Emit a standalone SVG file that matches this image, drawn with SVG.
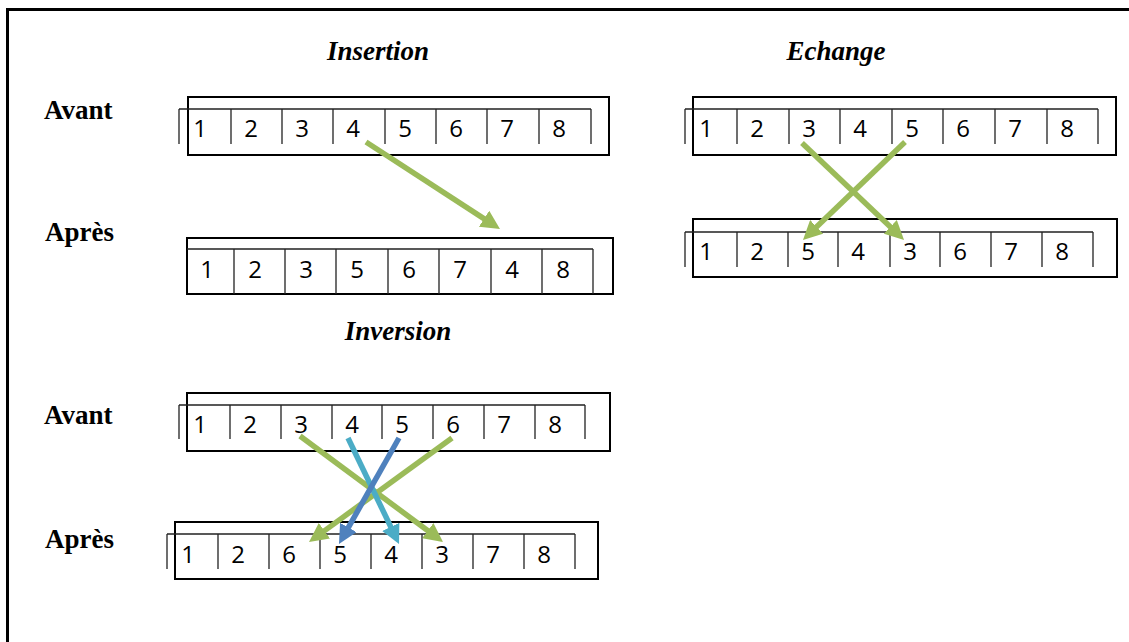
<svg xmlns="http://www.w3.org/2000/svg" width="1129" height="642" viewBox="0 0 1129 642">
  <defs>
    <style>
      .frame { fill: none; stroke: #000; stroke-width: 3; }
      .box { fill: none; stroke: #000; stroke-width: 2; }
      .grid { fill: none; stroke: #222; stroke-width: 1.3; }
      .num { font-family: "Open Sans", "Liberation Sans", sans-serif; font-size: 24px; fill: #000; text-anchor: middle; }
      .title { font-family: "Liberation Serif", serif; font-size: 27px; font-weight: bold; font-style: italic; fill: #000; text-anchor: middle; }
      .side { font-family: "Liberation Serif", serif; font-size: 27px; font-weight: bold; fill: #000; }
      .arr { fill: none; stroke-width: 5.5; }
      .green { stroke: #9BBB59; marker-end: url(#headGreen); }
      .cyan { stroke: #4BACC6; marker-end: url(#headCyan); }
      .blue { stroke: #4F81BD; marker-end: url(#headBlue); }
    </style>
    <marker id="headGreen" markerUnits="userSpaceOnUse" markerWidth="19" markerHeight="19" refX="9" refY="9.5" orient="auto">
      <path d="M0,0 L19,9.5 L0,19 Z" fill="#9BBB59"/>
    </marker>
    <marker id="headCyan" markerUnits="userSpaceOnUse" markerWidth="19" markerHeight="19" refX="9" refY="9.5" orient="auto">
      <path d="M0,0 L19,9.5 L0,19 Z" fill="#4BACC6"/>
    </marker>
    <marker id="headBlue" markerUnits="userSpaceOnUse" markerWidth="19" markerHeight="19" refX="9" refY="9.5" orient="auto">
      <path d="M0,0 L19,9.5 L0,19 Z" fill="#4F81BD"/>
    </marker>
  </defs>

  <rect width="1129" height="642" fill="#fff"/>
  <rect class="frame" x="7.5" y="9.5" width="1130" height="640"/>

  <!-- section titles and row labels -->
  <g id="labels">
    <text class="title" x="378" y="60">Insertion</text>
    <text class="title" x="836" y="60">Echange</text>
    <text class="title" x="398" y="340">Inversion</text>
    <text class="side" x="44" y="119">Avant</text>
    <text class="side" x="45" y="241">Après</text>
    <text class="side" x="44" y="424">Avant</text>
    <text class="side" x="45" y="548">Après</text>
  </g>

  <!-- insertion: before -->
  <g id="insertion-avant">
    <rect class="box" x="188" y="97" width="421" height="58"/>
    <path class="grid" d="M179,109 H591 M179,109 V144 M231,109 V144 M282,109 V144 M333,109 V144 M385,109 V144 M436,109 V144 M487,109 V144 M539,109 V144 M591,109 V144"/>
    <text class="num" y="137"><tspan x="200">1</tspan><tspan x="251">2</tspan><tspan x="302">3</tspan><tspan x="353">4</tspan><tspan x="405">5</tspan><tspan x="456">6</tspan><tspan x="507">7</tspan><tspan x="559">8</tspan></text>
  </g>

  <!-- insertion: after -->
  <g id="insertion-apres">
    <rect class="box" x="187" y="238" width="426" height="56"/>
    <path class="grid" d="M187,249 H593 M234,249 V294 M285,249 V294 M336,249 V294 M388,249 V294 M439,249 V294 M491,249 V294 M542,249 V294 M593,249 V294"/>
    <text class="num" y="278"><tspan x="207">1</tspan><tspan x="255">2</tspan><tspan x="306">3</tspan><tspan x="357">5</tspan><tspan x="409">6</tspan><tspan x="460">7</tspan><tspan x="512">4</tspan><tspan x="563">8</tspan></text>
  </g>

  <!-- exchange: before -->
  <g id="echange-avant">
    <rect class="box" x="693" y="97" width="423" height="58"/>
    <path class="grid" d="M685,109 H1098 M685,109 V144 M737,109 V144 M789,109 V144 M840,109 V144 M892,109 V144 M943,109 V144 M995,109 V144 M1047,109 V144 M1098,109 V144"/>
    <text class="num" y="137"><tspan x="706">1</tspan><tspan x="757">2</tspan><tspan x="809">3</tspan><tspan x="860">4</tspan><tspan x="912">5</tspan><tspan x="963">6</tspan><tspan x="1015">7</tspan><tspan x="1067">8</tspan></text>
  </g>

  <!-- exchange: after -->
  <g id="echange-apres">
    <rect class="box" x="693" y="219" width="424" height="58"/>
    <path class="grid" d="M685,232 H1093 M685,232 V267 M737,232 V267 M788,232 V267 M838,232 V267 M890,232 V267 M940,232 V267 M991,232 V267 M1042,232 V267 M1093,232 V267"/>
    <text class="num" y="260"><tspan x="706">1</tspan><tspan x="757">2</tspan><tspan x="808">5</tspan><tspan x="858">4</tspan><tspan x="910">3</tspan><tspan x="960">6</tspan><tspan x="1011">7</tspan><tspan x="1062">8</tspan></text>
  </g>

  <!-- inversion: before -->
  <g id="inversion-avant">
    <rect class="box" x="187" y="393" width="423" height="58"/>
    <path class="grid" d="M179,405 H585 M179,405 V439 M230,405 V439 M281,405 V439 M332,405 V439 M382,405 V439 M433,405 V439 M484,405 V439 M535,405 V439 M585,405 V439"/>
    <text class="num" y="433"><tspan x="200">1</tspan><tspan x="250">2</tspan><tspan x="301">3</tspan><tspan x="352">4</tspan><tspan x="402">5</tspan><tspan x="453">6</tspan><tspan x="504">7</tspan><tspan x="555">8</tspan></text>
  </g>

  <!-- inversion: after -->
  <g id="inversion-apres">
    <rect class="box" x="175" y="522" width="423" height="57"/>
    <path class="grid" d="M167,534 H575 M167,534 V569 M218,534 V569 M269,534 V569 M320,534 V569 M371,534 V569 M422,534 V569 M473,534 V569 M524,534 V569 M575,534 V569"/>
    <text class="num" y="563"><tspan x="188">1</tspan><tspan x="238">2</tspan><tspan x="289">6</tspan><tspan x="340">5</tspan><tspan x="391">4</tspan><tspan x="442">3</tspan><tspan x="493">7</tspan><tspan x="544">8</tspan></text>
  </g>

  <!-- moves between the before and after rows -->
  <g id="connectors">
    <line class="arr green" x1="366" y1="142" x2="491.6" y2="223.6"/>
    <line class="arr green" x1="802" y1="143" x2="896.8" y2="233.1"/>
    <line class="arr green" x1="905" y1="142" x2="810.2" y2="233.1"/>
    <line class="arr green" x1="300" y1="436" x2="435.0" y2="536.0"/>
    <line class="arr green" x1="452" y1="438" x2="317.1" y2="536.1"/>
    <line class="arr cyan" x1="348" y1="438" x2="394.7" y2="535.0"/>
    <line class="arr blue" x1="399" y1="438" x2="343.9" y2="535.3"/>
  </g>
</svg>
